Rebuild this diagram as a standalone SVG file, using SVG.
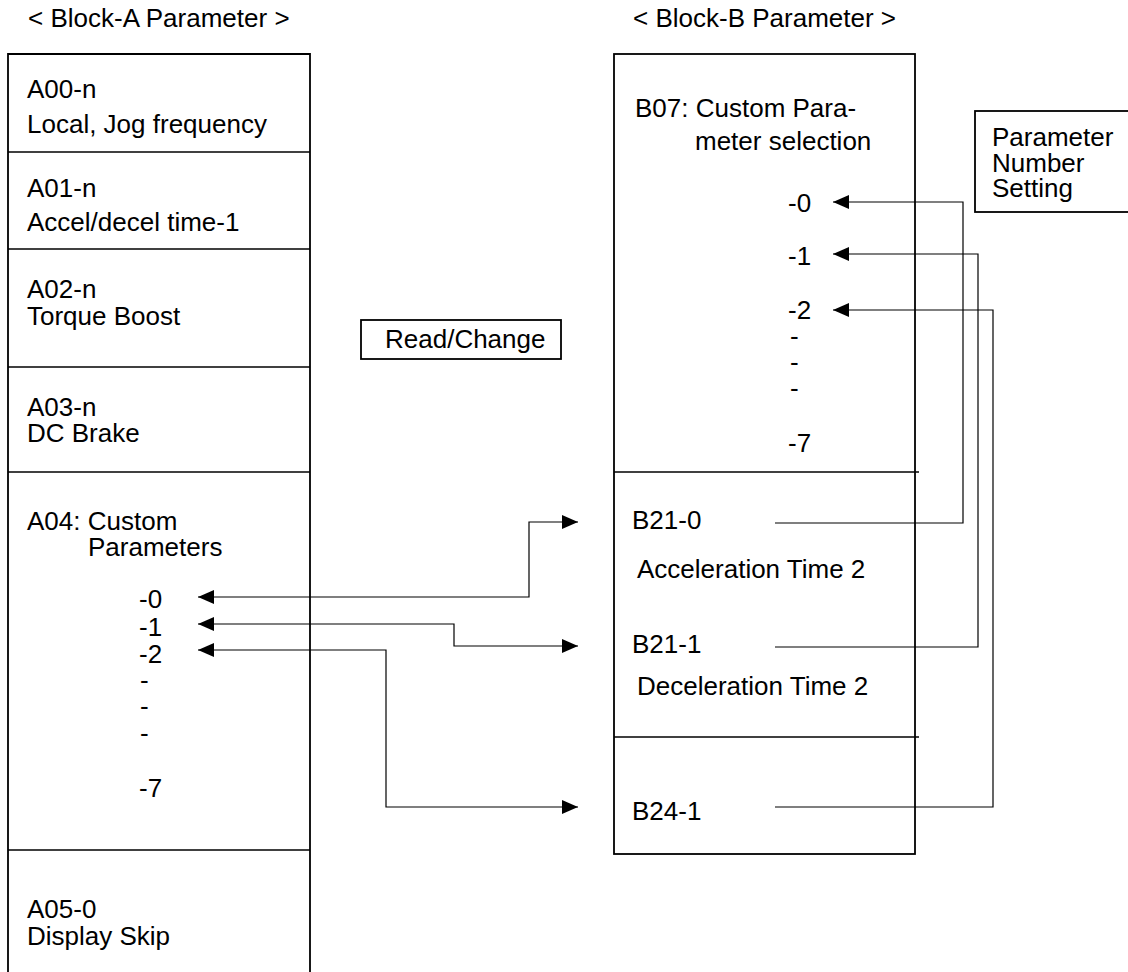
<svg xmlns="http://www.w3.org/2000/svg" width="1128" height="972" viewBox="0 0 1128 972">
<style>
text{font-family:"Liberation Sans",Arial,Helvetica,sans-serif;font-size:26px;fill:#000}
.box{fill:none;stroke:#000;stroke-width:1.8}
.div{stroke:#000;stroke-width:1.6}
.con{fill:none;stroke:#000;stroke-width:1.2}
</style>
<defs>
<marker id="ah" markerUnits="userSpaceOnUse" markerWidth="16" markerHeight="14" refX="16" refY="7" orient="auto-start-reverse">
<path d="M0,0 L16,7 L0,14 z" fill="#000"/>
</marker>
</defs>
<rect width="1128" height="972" fill="#fff"/>

<g id="title-a"><text x="28" y="27">&lt; Block-A Parameter &gt;</text></g>
<g id="title-b"><text x="633" y="27">&lt; Block-B Parameter &gt;</text></g>

<g id="block-a">
<path class="box" d="M8,980 V54 H310 V980"/>
<line class="div" x1="8" y1="152" x2="310" y2="152"/>
<line class="div" x1="8" y1="249" x2="310" y2="249"/>
<line class="div" x1="8" y1="367" x2="310" y2="367"/>
<line class="div" x1="8" y1="472" x2="310" y2="472"/>
<line class="div" x1="8" y1="850" x2="310" y2="850"/>
</g>
<g id="a00"><text x="27" y="98">A00-n</text><text x="27" y="133">Local, Jog frequency</text></g>
<g id="a01"><text x="27" y="197">A01-n</text><text x="27" y="231">Accel/decel time-1</text></g>
<g id="a02"><text x="27" y="298">A02-n</text><text x="27" y="325">Torque Boost</text></g>
<g id="a03"><text x="27" y="416">A03-n</text><text x="27" y="442">DC Brake</text></g>
<g id="a04">
<text x="27" y="530">A04: Custom</text>
<text x="88" y="556">Parameters</text>
<text x="139" y="608">-0</text>
<text x="139" y="636">-1</text>
<text x="139" y="663">-2</text>
<text x="140" y="689">-</text>
<text x="140" y="715">-</text>
<text x="140" y="742">-</text>
<text x="139" y="797">-7</text>
</g>
<g id="a05"><text x="27" y="918">A05-0</text><text x="27" y="945">Display Skip</text></g>

<g id="read-change">
<rect class="box" x="361" y="320" width="200" height="39"/>
<text x="385" y="348">Read/Change</text>
</g>

<g id="block-b">
<rect class="box" x="614" y="54" width="301" height="800"/>
<line class="div" x1="614" y1="472" x2="919" y2="472"/>
<line class="div" x1="614" y1="737" x2="919" y2="737"/>
</g>
<g id="b07">
<text x="635" y="117">B07: Custom Para-</text>
<text x="695" y="150">meter selection</text>
<text x="788" y="212">-0</text>
<text x="788" y="265">-1</text>
<text x="788" y="319">-2</text>
<text x="790" y="345">-</text>
<text x="790" y="371">-</text>
<text x="790" y="397">-</text>
<text x="788" y="452">-7</text>
</g>
<g id="b21">
<text x="632" y="529">B21-0</text>
<text x="637" y="578">Acceleration Time 2</text>
<text x="632" y="653">B21-1</text>
<text x="637" y="695">Deceleration Time 2</text>
</g>
<g id="b24"><text x="632" y="820">B24-1</text></g>

<g id="param-number-setting">
<rect class="box" x="975" y="111" width="170" height="101"/>
<text x="992" y="146">Parameter</text>
<text x="992" y="172">Number</text>
<text x="992" y="197">Setting</text>
</g>

<g id="connectors">
<path class="con" d="M198,597 H529 V522 H578" marker-start="url(#ah)" marker-end="url(#ah)"/>
<path class="con" d="M198,624 H454 V646 H578" marker-start="url(#ah)" marker-end="url(#ah)"/>
<path class="con" d="M198,650 H386 V807 H578" marker-start="url(#ah)" marker-end="url(#ah)"/>
<path class="con" d="M775,523 H963 V202 H833" marker-end="url(#ah)"/>
<path class="con" d="M775,647 H978 V254 H833" marker-end="url(#ah)"/>
<path class="con" d="M775,807 H993 V310 H833" marker-end="url(#ah)"/>
</g>
</svg>
